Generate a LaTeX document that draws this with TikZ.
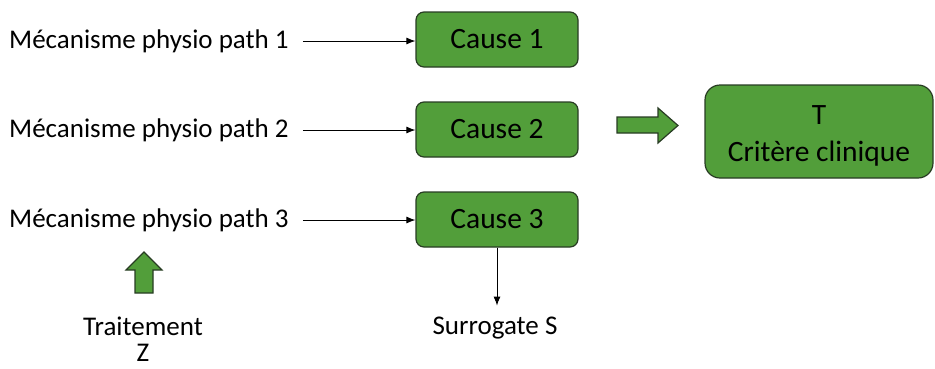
\documentclass[tikz,border=0pt]{standalone}
\usepackage{fontspec}
\setmainfont{Carlito}
\usetikzlibrary{arrows.meta}
\definecolor{causegreen}{RGB}{82,158,58}
\definecolor{edgegreen}{RGB}{40,60,35}

\begin{document}
\begin{tikzpicture}[x=1pt,y=-1pt,
		every node/.style={font=\fontsize{27}{30}\selectfont, inner sep=0pt},
		cause/.style={draw=edgegreen, line width=1.2pt, fill=causegreen, rounded corners=8pt, minimum width=162pt, minimum height=55pt, font=\fontsize{29.5}{37}\selectfont},
		thin/.style={line width=0.9pt, -{Latex[length=9pt,width=7pt]}},
		block/.style={draw=edgegreen, line width=1.2pt, fill=causegreen}]
	\useasboundingbox (0,0) rectangle (935,368);
	% mechanisms on the left
	\node [anchor=west] (m1) at (9,41) {Mécanisme physio path 1};
	\node [anchor=west] (m2) at (9,130) {Mécanisme physio path 2};
	\node [anchor=west] (m3) at (9,220) {Mécanisme physio path 3};
	% causes
	\node [cause] (c1) at (497,39.5) {Cause 1};
	\node [cause] (c2) at (497,129.5) {Cause 2};
	\node [cause] (c3) at (497,219.5) {Cause 3};
	% clinical endpoint
	\node [cause, rounded corners=15pt, minimum width=228pt, minimum height=93pt] (t) at (819,131.5) {};
	\node [font=\fontsize{29.5}{37}\selectfont, align=center] (tl) at (819,136) {T\\Critère clinique};
	\node (s) at (495,328) {Surrogate S};
	\node (z1) at (143,326) {Traitement};
	\node (z2) at (143,353) {Z};
	\draw [thin] (m1.east) ++(14,0) coordinate (a1) -- (a1 -| c1.west);
	\draw [thin] (m2.east) ++(14,0) coordinate (a2) -- (a2 -| c2.west);
	\draw [thin] (m3.east) ++(14,0) coordinate (a3) -- (a3 -| c3.west);
	\draw [thin] (c3.south) -- ++(0,58);
	% block arrows
	\draw [block] (617,117) -- (658,117) -- (658,108) -- (678,125.5) -- (658,143) -- (658,133) -- (617,133) -- cycle;
	\draw [block] (135,293) -- (135,270) -- (126,270) -- (144,252) -- (162,270) -- (153,270) -- (153,293) -- cycle;
\end{tikzpicture}
\end{document}
